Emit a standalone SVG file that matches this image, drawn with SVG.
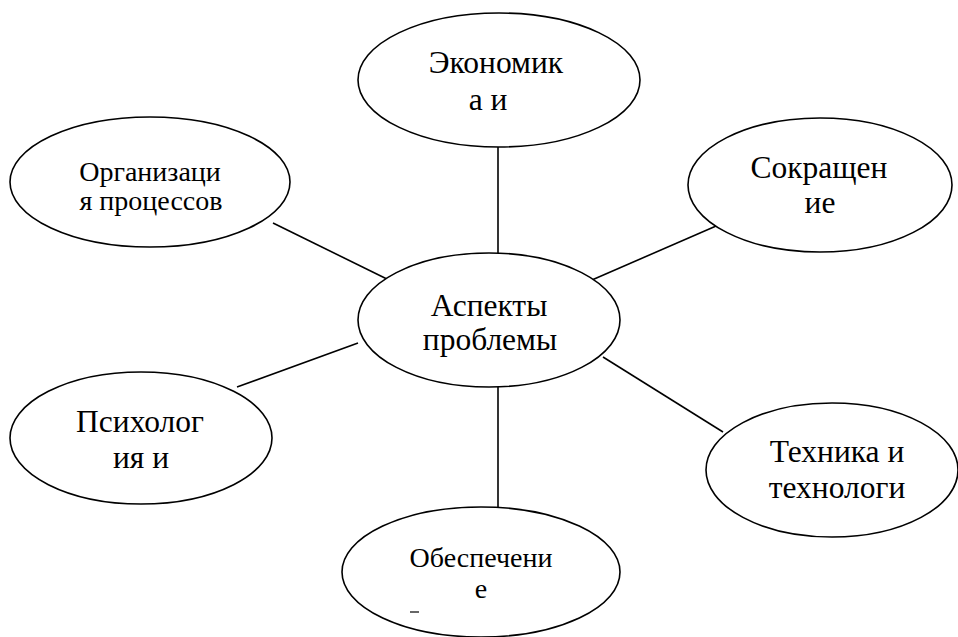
<svg xmlns="http://www.w3.org/2000/svg" width="958" height="637" viewBox="0 0 958 637">
<style>
ellipse{fill:#fff;stroke:#000;stroke-width:1.6}
line{stroke:#000;stroke-width:1.6}
text{font-family:"Liberation Serif","Times New Roman",serif;fill:#000;text-anchor:middle}
.b{font-size:31.5px}
.s{font-size:28px}
</style>
<rect width="958" height="637" fill="#fff"/>
<g id="connectors">
<line x1="498" y1="146" x2="498" y2="254"/>
<line x1="498" y1="386" x2="498" y2="508"/>
<line x1="273" y1="223" x2="393" y2="282"/>
<line x1="723" y1="223" x2="585" y2="283"/>
<line x1="237" y1="387" x2="358" y2="343"/>
<line x1="603" y1="357" x2="723" y2="432"/>
</g>
<g id="center">
<ellipse cx="489" cy="320" rx="131" ry="67"/>
<text class="b" x="489" y="316">Аспекты</text>
<text class="b" x="490" y="350">проблемы</text>
</g>
<g id="economics">
<ellipse cx="499" cy="80" rx="141" ry="67"/>
<text class="b" x="496" y="73">Экономик</text>
<text class="b" x="488" y="110">а и</text>
</g>
<g id="organization">
<ellipse cx="150" cy="182" rx="140" ry="65"/>
<text class="s" x="150" y="181">Организаци</text>
<text class="s" x="151" y="210">я процессов</text>
</g>
<g id="reduction">
<ellipse cx="820" cy="185" rx="132" ry="67"/>
<text class="b" x="819" y="178">Сокращен</text>
<text class="b" x="820" y="213">ие</text>
</g>
<g id="psychology">
<ellipse cx="141" cy="438" rx="131" ry="66"/>
<text class="b" x="140" y="432">Психолог</text>
<text class="b" x="141" y="468">ия и</text>
</g>
<g id="technology">
<ellipse cx="832" cy="470" rx="126" ry="67"/>
<text class="b" x="837" y="462">Техника и</text>
<text class="b" x="837" y="498">технологи</text>
</g>
<g id="support">
<ellipse cx="481" cy="572" rx="139" ry="65"/>
<text class="s" x="481" y="567">Обеспечени</text>
<text class="s" x="481" y="598">е</text>
<line x1="410" y1="612" x2="419" y2="612" style="stroke-width:1.2"/>
</g>
</svg>
